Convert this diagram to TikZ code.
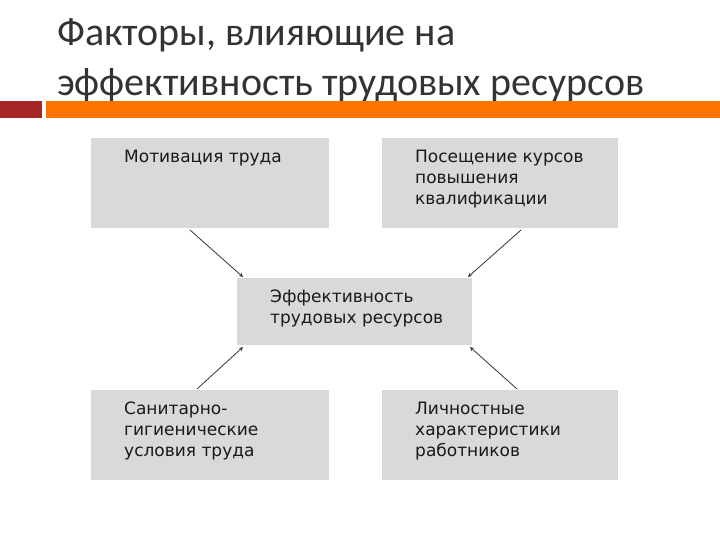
\documentclass[tikz,border=0pt]{standalone}
\usepackage{fontspec}
\setmainfont{Carlito}
\newfontfamily\boxfont{DejaVu Sans}
\begin{document}
\begin{tikzpicture}[x=1pt,y=-1pt,
 box/.style={fill=black!15,draw=none},
 lbl/.style={anchor=north west,align=left,font=\boxfont\fontsize{17}{21}\selectfont,inner sep=0pt,text=black!90},
 arr/.style={-stealth,line width=0.8pt,black!80}]
\useasboundingbox (0,0) rectangle (720,540);
\node[anchor=west,inner sep=0pt,font=\fontsize{40}{50}\selectfont,text=black!80] (t1) at (57,35) {Факторы, влияющие на};
\node[anchor=west,inner sep=0pt,font=\fontsize{40}{50}\selectfont,text=black!80] (t2) at (57,85) {эффективность трудовых ресурсов};
\fill[red!60!black!85] (0,101) rectangle (42,118);
\fill[orange!90!red] (46,101) rectangle (720,118);
\path[box] (91,138) rectangle (329,228);
\path[box] (382,138) rectangle (618,228);
\path[box] (237,278) rectangle (472,345);
\path[box] (91,390) rectangle (329,480);
\path[box] (382,390) rectangle (618,480);
\node[lbl] (a) at (124,150) {Мотивация труда};
\node[lbl] (b) at (415,150) {Посещение курсов\\повышения\\квалификации};
\node[lbl] (c) at (270,290) {Эффективность\\трудовых ресурсов};
\node[lbl] (d) at (124,402) {Санитарно-\\гигиенические\\условия труда};
\node[lbl] (e) at (415,402) {Личностные\\характеристики\\работников};
\coordinate (a1) at (190,230); \coordinate (a2) at (243,277);
\coordinate (b1) at (521,230); \coordinate (b2) at (468,277);
\coordinate (d1) at (197,389); \coordinate (d2) at (243,347);
\coordinate (e1) at (517,389); \coordinate (e2) at (470,347);
\draw[arr] (a1) -- (a2);
\draw[arr] (b1) -- (b2);
\draw[arr] (d1) -- (d2);
\draw[arr] (e1) -- (e2);
\end{tikzpicture}
\end{document}
